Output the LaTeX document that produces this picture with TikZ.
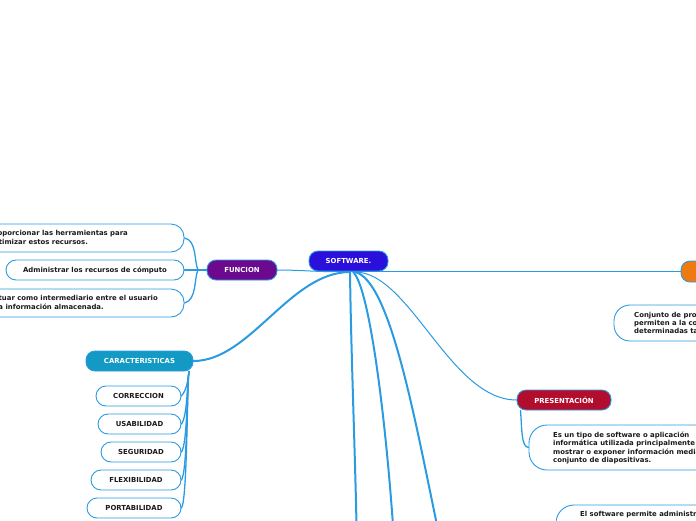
\documentclass[tikz,border=0pt]{standalone}
\usepackage{fontspec}
\setmainfont{DejaVu Sans}
\usetikzlibrary{calc}
\definecolor{link}{HTML}{2A9BE0}
\definecolor{textdark}{HTML}{1A1A1A}
\definecolor{softc}{HTML}{2B10DC}
\definecolor{func}{HTML}{6B0A8E}
\definecolor{carc}{HTML}{139AC4}
\definecolor{presc}{HTML}{B30D2E}
\definecolor{orangec}{HTML}{EE7A10}
\tikzset{
  every node/.style={font=\fontsize{6.9}{8.4}\selectfont\bfseries},
  topic/.style={rectangle, rounded corners=9pt, draw=link, line width=0.9pt, text=white, minimum height=20pt, inner sep=0pt},
  wbox/.style={rectangle, rounded corners=10pt, draw=link, line width=0.9pt, fill=white, text=textdark, minimum height=20pt, inner sep=0pt},
  txt/.style={anchor=west, align=left, text=textdark, inner sep=0pt},
  mainbranch/.style={draw=link, line width=2pt, line cap=round},
  thinbranch/.style={draw=link, line width=1pt, line cap=round},
  subbranch/.style={draw=link, line width=1.3pt, line cap=round},
}
\begin{document}
\begin{tikzpicture}[x=1pt,y=-1pt]
\useasboundingbox (0,0) rectangle (696,520);
% hub coordinates under SOFTWARE
\coordinate (h0) at (334,271.5);
\coordinate (h1) at (350,272);
\coordinate (h2) at (353,272);
\coordinate (h3) at (355,272);
\coordinate (d1) at (356.5,525);
\coordinate (d2) at (393,525);
\coordinate (d3) at (437,525);

% connectors from the root (drawn first, under nodes)
\draw[thinbranch] (h0) -- (706,271.5);
\draw[mainbranch] (h1) .. controls (351,350) and (355,450) .. (d1);
\draw[mainbranch] (h2) .. controls (368,285) and (384,400) .. (d2);
\draw[mainbranch] (h3) .. controls (390,280) and (415,420) .. (d3);

% nodes
\node[topic, fill=softc, minimum width=79pt] (soft) at (348.5,261) {SOFTWARE.};
\node[topic, fill=func, minimum width=70pt] (fun) at (242,270) {FUNCION};
\node[topic, fill=carc, minimum width=107pt] (car) at (139.5,361) {CARACTERISTICAS};
\node[topic, fill=presc, minimum width=94pt] (pres) at (564,400) {PRESENTACIÓN};
\node[topic, fill=orangec, minimum width=58pt, minimum height=21pt] (ora) at (710,271.5) {};

% root to topics
\draw[thinbranch] (fun.east) .. controls (300,270) and (320,272) .. (h0);
\draw[mainbranch] (h1) .. controls (290,272) and (250,361) .. (car.east);
\draw[thinbranch] (h3) .. controls (410,272) and (450,400) .. (pres.west);

% FUNCION children
\node[wbox, rounded corners=13pt, minimum width=244pt, minimum height=28pt] (f1) at (62,238) {};
\node[txt] (f1t) at (-11,238) {Proporcionar las herramientas para\\optimizar estos recursos.};
\node[wbox, minimum width=178pt] (f2) at (95,270) {Administrar los recursos de cómputo};
\node[wbox, rounded corners=13pt, minimum width=244pt, minimum height=28pt] (f3) at (62,303) {};
\node[txt] (f3t) at (-11,303) {Actuar como intermediario entre el usuario\\y la información almacenada.};
\coordinate (fj) at (198,270);
\draw[subbranch] (fun.west) -- (f2.east);
\draw[subbranch] (fj) .. controls (194,262) and (197,240) .. (f1.east);
\draw[subbranch] (fj) .. controls (194,278) and (197,300) .. (f3.east);

% CARACTERISTICAS children
\node[wbox, minimum width=85pt] (c1) at (138.5,396) {CORRECCION};
\node[wbox, minimum width=83pt] (c2) at (139.5,424) {USABILIDAD};
\node[wbox, minimum width=80pt] (c3) at (141,452) {SEGURIDAD};
\node[wbox, minimum width=90pt] (c4) at (136,480) {FLEXIBILIDAD};
\node[wbox, minimum width=94pt] (c5) at (134,508) {PORTABILIDAD};
\coordinate (cj) at (189,371.5);
\foreach \n in {c1,c2,c3,c4,c5}
  \draw[subbranch] (cj) .. controls ($(cj)+(-2,12)$) and ($(\n.east)+(6,-8)$) .. (\n.east);

% PRESENTACION child
\node[wbox, rounded corners=18pt, minimum width=271pt, minimum height=45pt] (p1) at (664.5,447.5) {};
\node[txt] (p1t) at (553,448) {Es un tipo de software o aplicación\\informática utilizada principalmente para\\mostrar o exponer información mediante un\\conjunto de diapositivas.};
\coordinate (pj) at (520.5,410.5);
\draw[subbranch] (pj) .. controls (522,428) and (521,447) .. (p1.west);

% orange topic child
\node[wbox, rounded corners=16pt, minimum width=186pt, minimum height=36pt] (o1) at (707,323) {};
\node[txt] (o1t) at (634,323) {Conjunto de programas que\\permiten a la computadora realizar\\determinadas tareas.};

% box at the bottom right
\node[wbox, rounded corners=18pt, minimum width=244pt, minimum height=40pt] (e1) at (678,525) {};
\node[txt, anchor=north west] (e1t) at (580,511) {El software permite administrar los recursos};
\end{tikzpicture}
\end{document}
